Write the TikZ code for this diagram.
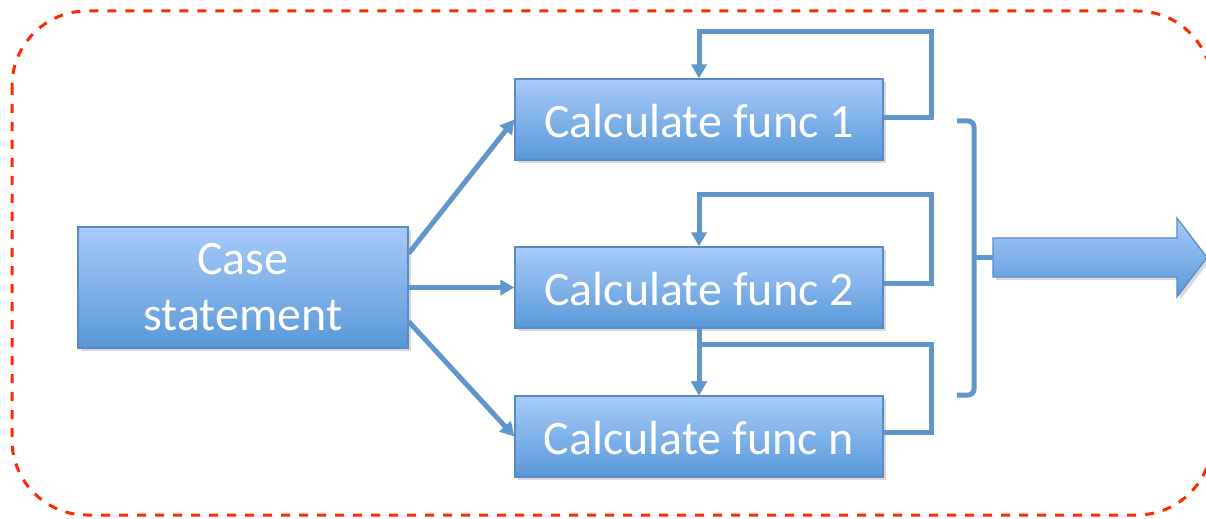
\documentclass[tikz,border=0pt]{standalone}
\usepackage{fontspec}
\setmainfont{Carlito}
\usetikzlibrary{arrows.meta,shadows}
\definecolor{boxtop}{HTML}{A7CBF9}
\definecolor{boxbot}{HTML}{5898D8}
\definecolor{boxline}{HTML}{5A8AC6}
\definecolor{linkc}{HTML}{6096CB}
\definecolor{framec}{HTML}{FF2A00}
\begin{document}
\begin{tikzpicture}[x=0.5pt,y=-0.5pt,
  calcbox/.style={draw=boxline,line width=0.6pt,top color=boxtop,bottom color=boxbot,
    drop shadow={shadow xshift=1.5pt,shadow yshift=-1.5pt,opacity=.3},
    text=white,font=\fontsize{24}{28}\selectfont,align=center,inner sep=0pt},
  funcbox/.style={calcbox,minimum width=184pt,minimum height=40.5pt,text height=18pt,text depth=0pt},
  link/.style={linkc,line width=2.5pt},
  linkarr/.style={link,-{Triangle[width=7.5pt,length=7pt]}}]
\useasboundingbox (0,0) rectangle (1206,519);
\draw[framec,line width=1.5pt,dash pattern=on 4.5pt off 4.5pt,rounded corners=37.5pt]
  (12,11) rectangle (1212,515);
% boxes
\node[calcbox,minimum width=165pt,minimum height=60.5pt] (case) at (243,287.5) {Case\\statement};
\node[funcbox] (f1) at (699,119.5) {Calculate func 1};
\node[funcbox] (f2) at (699,287.5) {Calculate func 2};
\node[funcbox] (fn) at (699,436.5) {Calculate func n};
% case to funcs
\draw[linkarr] ([yshift=17pt]case.east) -- (f1.west);
\draw[linkarr] (case.east) -- (f2.west);
\draw[linkarr] ([yshift=-17pt]case.east) -- (fn.west);
% loops
\draw[linkarr] ([yshift=1pt]f1.east) -- ++(48,0) |- ([yshift=23.5pt]f1.north) -- (f1.north);
\draw[linkarr] ([yshift=2pt]f2.east) -- ++(48,0) |- ([yshift=26pt]f2.north) -- (f2.north);
\draw[linkarr] (f2.south) -- (fn.north);
\draw[linkarr] ([yshift=2pt]fn.east) -- ++(48,0) |- ([yshift=25.5pt]fn.north) -- (fn.north);
% bracket and result arrow
\coordinate (out) at (993,257.5);
\coordinate (brc) at (974,257.5);
\draw[draw=boxline,line width=0.6pt,top color=boxtop,bottom color=boxbot,
  drop shadow={shadow xshift=1.5pt,shadow yshift=-1.5pt,opacity=.3}]
  (993,238) -- (1177,238) -- (1177,218) -- (1207,257.5) -- (1177,297) -- (1177,277) -- (993,277) -- cycle;
\draw[link,rounded corners=3pt] (957,121) -- (974,121) -- (974,395) -- (957,395);
\draw[link] (brc) -- (out);
\end{tikzpicture}
\end{document}
